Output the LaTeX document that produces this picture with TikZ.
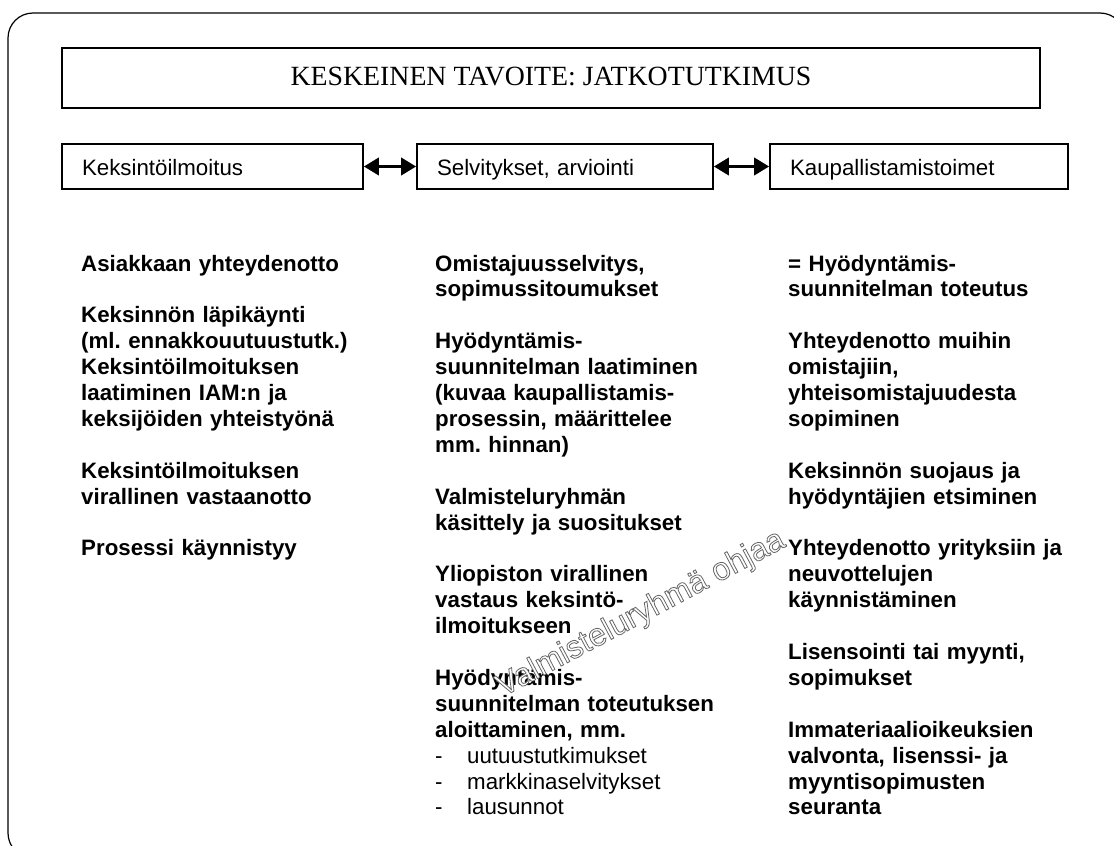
\documentclass[tikz,border=0pt]{standalone}
\usepackage{fontspec}
\setmainfont{Liberation Serif}
\setsansfont{Liberation Sans}
\usetikzlibrary{arrows.meta, positioning}
\frenchspacing
\tikzset{
	goalbox/.style={draw, line width=1.6pt, minimum width=978pt, minimum height=60pt,
		text height=19pt, text depth=5pt, font=\fontsize{27.8}{32}\selectfont}
}
\tikzset{
	stagebox/.style={draw, line width=1.6pt, minimum height=45pt, inner xsep=20pt, align=left,
		text height=22pt, text depth=5pt, font=\sffamily\fontsize{22.3}{25.9}\selectfont}
}
\tikzset{
	steptext/.style={anchor=base west, inner sep=0pt, text width=330pt, align=left,
		font=\sffamily\bfseries\fontsize{22.3}{25.9}\selectfont}
}
\tikzset{
	linkarrow/.style={{Triangle[length=15pt,width=17pt]}-{Triangle[length=15pt,width=17pt]}, line width=3.5pt}
}
\tikzset{
	stamptext/.style={anchor=base west, rotate=28, inner sep=0pt, text=white,
		font=\sffamily\fontsize{32}{32}\selectfont}
}
\newcommand\dashline[1]{{\mdseries\makebox[32pt][l]{-}#1}}
% hollow letters: white fill, gray stroke
\newcommand\hollow[1]{\special{pdf:literal direct 2 Tr 0.8 w 0.4 G}#1\special{pdf:literal direct 0 Tr}}

\begin{document}
\begin{tikzpicture}[x=1pt, y=-1pt]
      \useasboundingbox (0,0) rectangle (1114,846);
      \clip (0,0) rectangle (1114,846);
      % outer frame
      \draw[rounded corners=25pt, line width=1.2pt] (8,13) rectangle (1125,858);
      % goal
      \node[goalbox] (goal) at (551,78) {KESKEINEN TAVOITE: JATKOTUTKIMUS};
      % stages and links
      \node[stagebox, text width=261pt] (notice) at (212.5,166.5) {Keksintöilmoitus};
      \node[stagebox, text width=256pt] (review) at (565,166.5) {Selvitykset, arviointi};
      \node[stagebox, text width=258pt] (market) at (919,166.5) {Kaupallistamistoimet};
      \draw[linkarrow] (notice) -- (review);
      \draw[linkarrow] (review) -- (market);
      % step lists
      \node[steptext] (col1) at (81,271) {Asiakkaan yhteydenotto\\[\baselineskip]
        Keksinnön läpikäynti\\(ml. ennakkouutuustutk.)\\Keksintöilmoituksen\\
        laatiminen IAM:n ja\\keksijöiden yhteistyönä\\[\baselineskip]
        Keksintöilmoituksen\\virallinen vastaanotto\\[\baselineskip]
        Prosessi käynnistyy};
      \node[steptext] (col2) at (435,271) {Omistajuusselvitys,\\sopimussitoumukset\\[\baselineskip]
        Hyödyntämis-\\suunnitelman laatiminen\\(kuvaa kaupallistamis-\\prosessin, määrittelee\\
        mm. hinnan)\\[\baselineskip]
        Valmisteluryhmän\\käsittely ja suositukset\\[\baselineskip]
        Yliopiston virallinen\\vastaus keksintö-\\ilmoitukseen\\[\baselineskip]
        Hyödyntämis-\\suunnitelman toteutuksen\\aloittaminen, mm.\\
        \dashline{uutuustutkimukset}\\\dashline{markkinaselvitykset}\\\dashline{lausunnot}};
      \node[steptext] (col3) at (788,271) {= Hyödyntämis-\\suunnitelman toteutus\\[\baselineskip]
        Yhteydenotto muihin\\omistajiin,\\yhteisomistajuudesta\\sopiminen\\[\baselineskip]
        Keksinnön suojaus ja\\hyödyntäjien etsiminen\\[\baselineskip]
        Yhteydenotto yrityksiin ja\\neuvottelujen\\käynnistäminen\\[\baselineskip]
        Lisensointi tai myynti,\\sopimukset\\[\baselineskip]
        Immateriaalioikeuksien\\valvonta, lisenssi- ja\\myyntisopimusten\\seuranta};
      % stamp
      \node[stamptext] (stamp) at (503,697) {\hollow{Valmisteluryhmä ohjaa}};
    \end{tikzpicture}
\end{document}
